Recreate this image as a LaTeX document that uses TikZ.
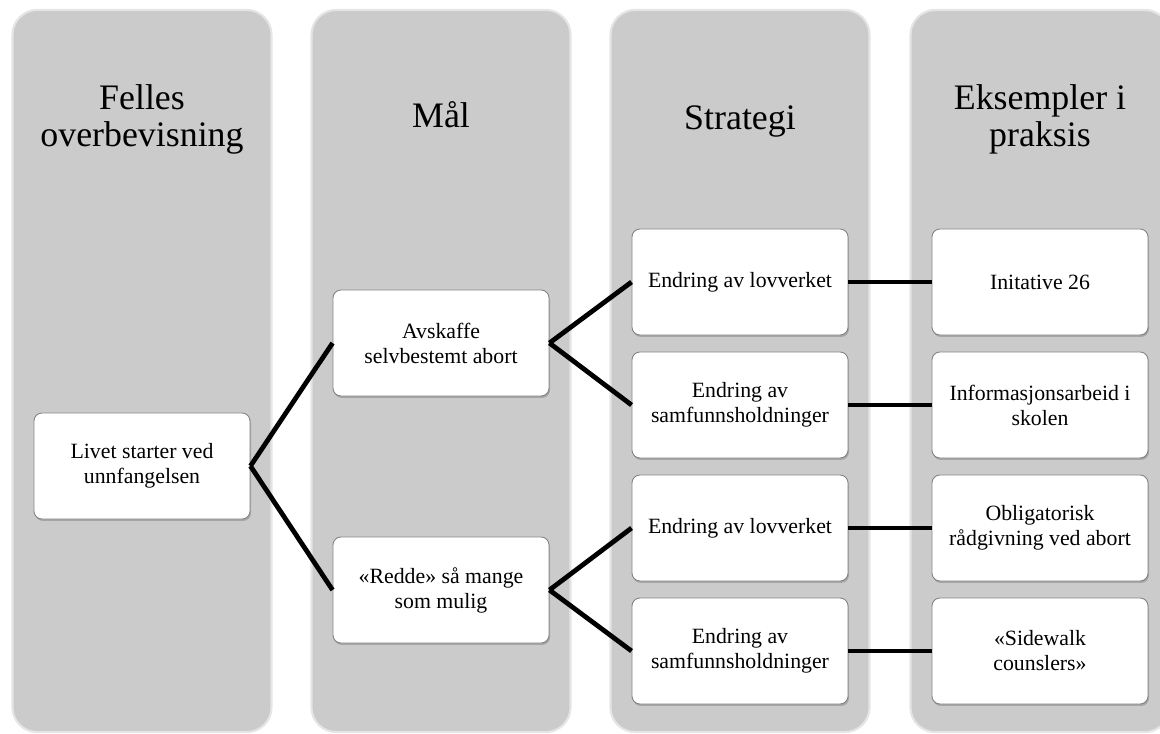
\documentclass[tikz,border=0pt]{standalone}
\usepackage{fontspec}
\setmainfont{Liberation Serif}
\usetikzlibrary{positioning,shadows}
\definecolor{colgray}{RGB}{203,203,203}

\begin{document}
\begin{tikzpicture}[x=0.025cm,y=-0.025cm,
    column/.style={fill=colgray,draw=black!10,line width=1.5pt,rounded corners=0.62cm,minimum width=6.475cm,minimum height=18.05cm,inner sep=0pt},
    heading/.style={anchor=north,align=center,inner sep=0pt,font=\fontsize{25.5}{26.3}\selectfont},
    item/.style={draw=black!50,line width=0.6pt,fill=white,rounded corners=0.2cm,minimum width=5.4cm,minimum height=2.65cm,align=center,inner sep=2pt,font=\fontsize{15.5}{17.8}\selectfont,drop shadow={shadow xshift=0.7pt,shadow yshift=-1.4pt,opacity=0.5}},
    link/.style={line width=3.4pt}]
        \clip (0,0) rectangle (1160,733);
        % columns and their headings
        \node[column] (fel) at (142,371) {};
        \node[column] (mal) at (441,371) {};
        \node[column] (str) at (740,371) {};
        \node[column] (eks) at (1040,371) {};
        \node[heading] (hfel) at (142,84) {Felles\\overbevisning};
        \node[heading] (hmal) at (441,101) {Mål};
        \node[heading] (hstr) at (740,105) {Strategi};
        \node[heading] (heks) at (1040,84) {Eksempler i\\praksis};
        % boxes
        \node[item] (liv) at (142,466) {Livet starter ved\\unnfangelsen};
        \node[item] (avs) at (441,343) {Avskaffe\\selvbestemt abort};
        \node[item] (red) at (441,590) {«Redde» så mange\\som mulig};
        \node[item] (s1) at (740,282) {Endring av lovverket};
        \node[item] (s2) at (740,405) {Endring av\\samfunnsholdninger};
        \node[item] (s3) at (740,528) {Endring av lovverket};
        \node[item] (s4) at (740,651) {Endring av\\samfunnsholdninger};
        \node[item] (e1) at (1040,282) {Initative 26};
        \node[item] (e2) at (1040,405) {Informasjonsarbeid i\\skolen};
        \node[item] (e3) at (1040,528) {Obligatorisk\\rådgivning ved abort};
        \node[item] (e4) at (1040,651) {«Sidewalk\\counslers»};
        \path[link] (liv.east) edge (avs.west) edge (red.west);
        \path[link] (avs.east) edge (s1.west) edge (s2.west);
        \path[link] (red.east) edge (s3.west) edge (s4.west);
        \path[link] (s1) edge (e1) (s2) edge (e2) (s3) edge (e3) (s4) edge (e4);
      \end{tikzpicture}
\end{document}
